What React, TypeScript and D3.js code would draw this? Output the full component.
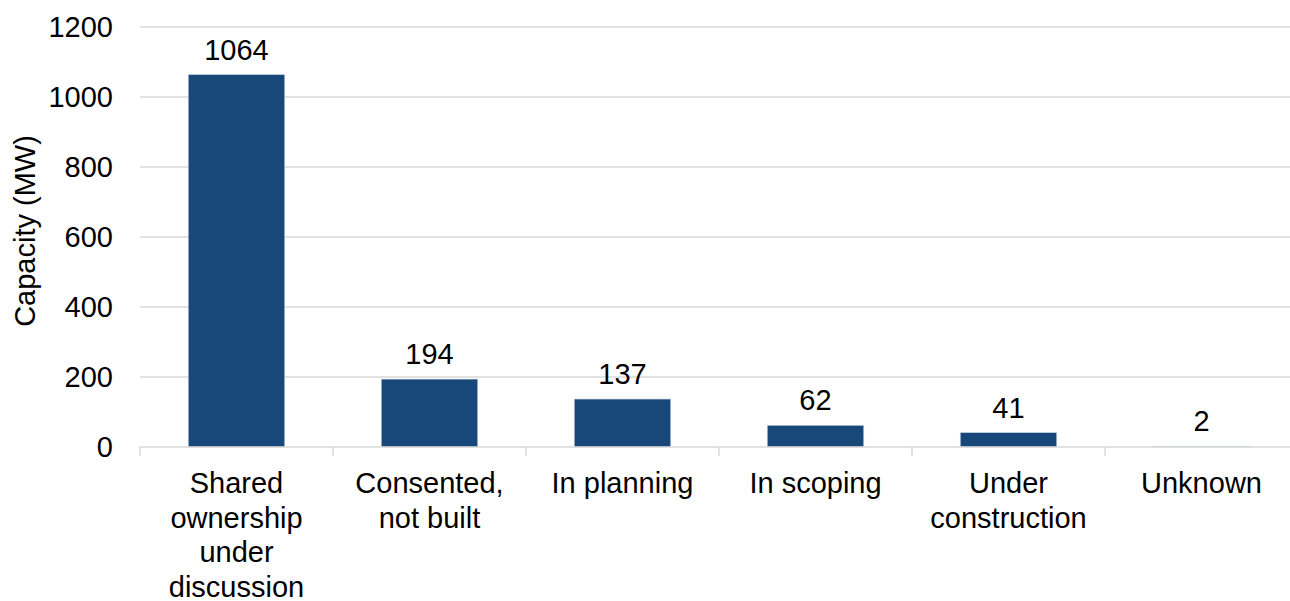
import React from "react";
import * as d3 from "d3";

const categories: string[][] = [
  ["Shared", "ownership", "under", "discussion"],
  ["Consented,", "not built"],
  ["In planning"],
  ["In scoping"],
  ["Under", "construction"],
  ["Unknown"],
];
const values: number[] = [1064, 194, 137, 62, 41, 2];
const yTicks: number[] = [0, 200, 400, 600, 800, 1000, 1200];
const yTitle = "Capacity (MW)";

export default function App() {
  const W = 1290;
  const H = 601;
  const left = 140;
  const step = 193;
  const font = "'Liberation Sans', Arial, sans-serif";
  const fs = 29;
  const keys = categories.map((_, i) => String(i));
  const x = d3
    .scaleBand<string>()
    .domain(keys)
    .range([left, left + step * keys.length])
    .paddingInner(0.5)
    .paddingOuter(0.25);
  const y = d3.scaleLinear().domain([0, 1200]).range([447, 27]);
  const bounds = d3.range(keys.length).map((i) => left + step * i);

  return (
    <svg
      width={W}
      height={H}
      style={{ position: "absolute", left: 0, top: 0, background: "#fff" }}
      fontFamily={font}
    >
      {yTicks.map((t) => (
        <g key={t}>
          {t > 0 && (
            <line x1={left} x2={W} y1={y(t)} y2={y(t)} stroke="#d9d9d9" strokeWidth={1.5} />
          )}
          <text x={113} y={y(t)} dy="0.36em" textAnchor="end" fontSize={fs} fill="#000">
            {t}
          </text>
        </g>
      ))}
      {values.map((v, i) => (
        <g key={i}>
          <rect
            x={x(keys[i])}
            y={y(v)}
            width={x.bandwidth()}
            height={y(0) - y(v)}
            fill="#174879"
            stroke="#c9d3e0"
            strokeWidth={0.6}
          />
          <text
            x={(x(keys[i]) as number) + x.bandwidth() / 2}
            y={y(v) - 15}
            textAnchor="middle"
            fontSize={fs}
            fill="#000"
          >
            {v}
          </text>
          {categories[i].map((line, j) => (
            <text
              key={j}
              x={(x(keys[i]) as number) + x.bandwidth() / 2}
              y={493 + j * 34.5}
              textAnchor="middle"
              fontSize={fs}
              fill="#000"
            >
              {line}
            </text>
          ))}
        </g>
      ))}
      <line x1={left} x2={W} y1={y(0)} y2={y(0)} stroke="#d9d9d9" strokeWidth={1.5} />
      {bounds.map((b, i) => (
        <line key={i} x1={b} x2={b} y1={y(0)} y2={y(0) + 9} stroke="#d9d9d9" strokeWidth={1.5} />
      ))}
      <text
        transform={`translate(35, 231) rotate(-90)`}
        textAnchor="middle"
        fontSize={fs}
        fill="#000"
      >
        {yTitle}
      </text>
    </svg>
  );
}
